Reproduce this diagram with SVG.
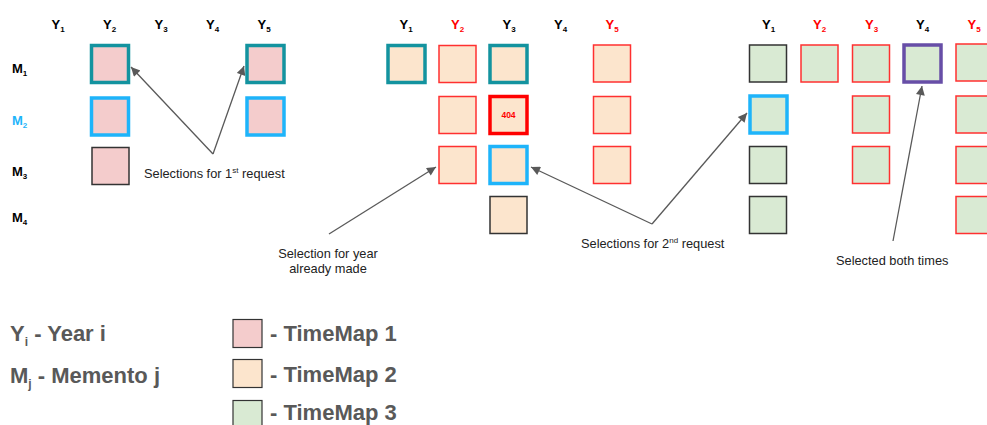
<svg xmlns="http://www.w3.org/2000/svg" width="987" height="425" viewBox="0 0 987 425">
<defs>
<style>
.hd{font-family:"Liberation Sans",Arial,sans-serif;font-weight:bold;font-size:13px;fill:#000}
.hd.r{fill:#ff0000}
.rl{font-family:"Liberation Sans",Arial,sans-serif;font-weight:bold;font-size:13px;fill:#000}
.rl.b{fill:#1eb4fa}
.sub{font-size:8px}
.ann{font-family:"Liberation Sans",Arial,sans-serif;font-size:12.8px;fill:#222}
.sup{font-size:8px}
.lg{font-family:"Liberation Sans",Arial,sans-serif;font-weight:bold;font-size:22px;fill:#595959}
.lsub{font-size:12px}
.p1{fill:#f4cccc}
.p2{fill:#fce5cd}
.p3{fill:#d9ead3}
.dk{stroke:#333;stroke-width:1.5}
.rd{stroke:#ff3030;stroke-width:1.5}
.rdT{stroke:#ff0000;stroke-width:3.5}
.tl{stroke:#13939f;stroke-width:3.5}
.bl{stroke:#1eb4fa;stroke-width:3.5}
.pu{stroke:#674ea7;stroke-width:3.5}
.cn{stroke:#595959;stroke-width:1.3;fill:none;marker-end:url(#ah)}
</style>
<marker id="ah" viewBox="0 0 10 10" refX="10" refY="5" markerWidth="11" markerHeight="9" markerUnits="userSpaceOnUse" orient="auto">
<path d="M0,0 L10,5 L0,10 z" fill="#595959"/>
</marker>
</defs>
<rect width="987" height="425" fill="#fff"/>

<!-- Panel 1 headers -->
<g id="p1-headers">
<text class="hd" x="51.5" y="29">Y<tspan class="sub" dy="3">1</tspan></text>
<text class="hd" x="103" y="29">Y<tspan class="sub" dy="3">2</tspan></text>
<text class="hd" x="154.5" y="29">Y<tspan class="sub" dy="3">3</tspan></text>
<text class="hd" x="206" y="29">Y<tspan class="sub" dy="3">4</tspan></text>
<text class="hd" x="257.5" y="29">Y<tspan class="sub" dy="3">5</tspan></text>
</g>
<g id="row-labels">
<text class="rl" x="12" y="73">M<tspan class="sub" dy="3">1</tspan></text>
<text class="rl b" x="12" y="125">M<tspan class="sub" dy="3">2</tspan></text>
<text class="rl" x="12" y="176">M<tspan class="sub" dy="3">3</tspan></text>
<text class="rl" x="12" y="222">M<tspan class="sub" dy="3">4</tspan></text>
</g>

<!-- Panel 1 boxes -->
<g id="p1-m1-y2"><rect class="p1 tl" x="91.5" y="45.5" width="37" height="37"/></g>
<g id="p1-m1-y5"><rect class="p1 tl" x="247" y="45.5" width="37" height="37"/></g>
<g id="p1-m2-y2"><rect class="p1 bl" x="91.5" y="98" width="37" height="37"/></g>
<g id="p1-m2-y5"><rect class="p1 bl" x="247" y="98" width="37" height="37"/></g>
<g id="p1-m3-y2"><rect class="p1 dk" x="92" y="147.5" width="37" height="37"/></g>

<!-- Panel 2 headers -->
<g id="p2-headers">
<text class="hd" x="399.5" y="29">Y<tspan class="sub" dy="3">1</tspan></text>
<text class="hd r" x="451" y="29">Y<tspan class="sub" dy="3">2</tspan></text>
<text class="hd" x="502.5" y="29">Y<tspan class="sub" dy="3">3</tspan></text>
<text class="hd" x="554" y="29">Y<tspan class="sub" dy="3">4</tspan></text>
<text class="hd r" x="605.5" y="29">Y<tspan class="sub" dy="3">5</tspan></text>
</g>
<g id="p2-m1-y1"><rect class="p2 tl" x="388" y="45.5" width="37" height="37"/></g>
<g id="p2-m1-y2"><rect class="p2 rd" x="439" y="45.5" width="37" height="37"/></g>
<g id="p2-m1-y3"><rect class="p2 tl" x="490" y="45.5" width="37" height="37"/></g>
<g id="p2-m1-y5"><rect class="p2 rd" x="593.5" y="45" width="37" height="37"/></g>
<g id="p2-m2-y2"><rect class="p2 rd" x="439" y="96.5" width="37" height="37"/></g>
<g id="p2-m2-y3"><rect class="p2 rdT" x="490" y="96.5" width="37" height="37"/>
<text x="508.5" y="118" text-anchor="middle" font-family="Liberation Sans, Arial, sans-serif" font-weight="bold" font-size="8.5" fill="#ff0000">404</text></g>
<g id="p2-m2-y5"><rect class="p2 rd" x="593.5" y="96.5" width="37" height="37"/></g>
<g id="p2-m3-y2"><rect class="p2 rd" x="439" y="146.5" width="37" height="37"/></g>
<g id="p2-m3-y3"><rect class="p2 bl" x="490" y="146.5" width="37" height="37"/></g>
<g id="p2-m3-y5"><rect class="p2 rd" x="593.5" y="146.5" width="37" height="37"/></g>
<g id="p2-m4-y3"><rect class="p2 dk" x="490" y="196.5" width="37" height="37"/></g>

<!-- Panel 3 headers -->
<g id="p3-headers">
<text class="hd" x="762" y="29">Y<tspan class="sub" dy="3">1</tspan></text>
<text class="hd r" x="813" y="29">Y<tspan class="sub" dy="3">2</tspan></text>
<text class="hd r" x="865" y="29">Y<tspan class="sub" dy="3">3</tspan></text>
<text class="hd" x="916" y="29">Y<tspan class="sub" dy="3">4</tspan></text>
<text class="hd r" x="967.5" y="29">Y<tspan class="sub" dy="3">5</tspan></text>
</g>
<g id="p3-m1-y1"><rect class="p3 dk" x="749.5" y="45" width="37" height="37"/></g>
<g id="p3-m1-y2"><rect class="p3 rd" x="801" y="45" width="37" height="37"/></g>
<g id="p3-m1-y3"><rect class="p3 rd" x="852.5" y="45" width="37" height="37"/></g>
<g id="p3-m1-y4"><rect class="p3 pu" x="904" y="45" width="37" height="37"/></g>
<g id="p3-m1-y5"><rect class="p3 rd" x="956" y="44" width="37" height="37"/></g>
<g id="p3-m2-y1"><rect class="p3 bl" x="750" y="96" width="37" height="37"/></g>
<g id="p3-m2-y3"><rect class="p3 rd" x="852.5" y="96" width="37" height="37"/></g>
<g id="p3-m2-y5"><rect class="p3 rd" x="956" y="96" width="37" height="37"/></g>
<g id="p3-m3-y1"><rect class="p3 dk" x="749.5" y="146.5" width="37" height="37"/></g>
<g id="p3-m3-y3"><rect class="p3 rd" x="852.5" y="146.5" width="37" height="37"/></g>
<g id="p3-m3-y5"><rect class="p3 rd" x="956" y="146.5" width="37" height="37"/></g>
<g id="p3-m4-y1"><rect class="p3 dk" x="749.5" y="196.5" width="37" height="37"/></g>
<g id="p3-m4-y5"><rect class="p3 rd" x="956" y="196.5" width="37" height="37"/></g>

<!-- Annotations -->
<g id="ann-1st"><text class="ann" x="144" y="178">Selections for 1<tspan class="sup" dy="-5">st</tspan><tspan dy="5"> request</tspan></text></g>
<g id="ann-year"><text class="ann" text-anchor="middle" x="328" y="258">Selection for year</text>
<text class="ann" text-anchor="middle" x="328" y="273">already made</text></g>
<g id="ann-2nd"><text class="ann" x="581" y="248">Selections for 2<tspan class="sup" dy="-5">nd</tspan><tspan dy="5"> request</tspan></text></g>
<g id="ann-both"><text class="ann" x="836" y="265">Selected both times</text></g>

<!-- Connectors -->
<g id="connectors">
<line class="cn" x1="213" y1="154" x2="131" y2="67"/>
<line class="cn" x1="213" y1="154" x2="244" y2="66"/>
<line class="cn" x1="329" y1="234" x2="436" y2="167"/>
<line class="cn" x1="652" y1="224" x2="531" y2="167"/>
<line class="cn" x1="652" y1="224" x2="747" y2="113"/>
<line class="cn" x1="893" y1="241" x2="922" y2="86"/>
</g>

<!-- Legend -->
<g id="legend-y"><text class="lg" x="10" y="341">Y<tspan class="lsub" dy="5">i</tspan><tspan dy="-5"> - Year i</tspan></text></g>
<g id="legend-m"><text class="lg" x="10" y="383">M<tspan class="lsub" dy="5">j</tspan><tspan dy="-5"> - Memento j</tspan></text></g>
<g id="legend-tm1"><rect class="p1" x="233" y="319.5" width="29" height="28" stroke="#333" stroke-width="1.2"/><text class="lg" x="270" y="341">- TimeMap 1</text></g>
<g id="legend-tm2"><rect class="p2" x="233" y="359.5" width="29" height="28" stroke="#333" stroke-width="1.2"/><text class="lg" x="270" y="382">- TimeMap 2</text></g>
<g id="legend-tm3"><rect class="p3" x="233" y="400.5" width="29" height="28" stroke="#333" stroke-width="1.2"/><text class="lg" x="270" y="420">- TimeMap 3</text></g>
</svg>
